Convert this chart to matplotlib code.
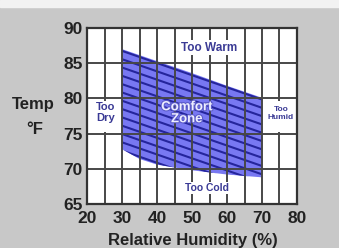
import matplotlib
matplotlib.use("Agg")
import matplotlib.pyplot as plt
import numpy as np
import matplotlib.patheffects as pe
from matplotlib.patches import Polygon, Rectangle

FONT = 'Liberation Sans'

# data
humidity_top = [30, 40, 50, 60, 70]
temp_top = [87.0, 85.3, 83.6, 81.8, 80.1]
humidity_bottom = [30, 35, 40, 50, 60, 70]
temp_bottom = [72.8, 71.4, 70.6, 69.8, 69.2, 68.8]
xticks = [20, 30, 40, 50, 60, 70, 80]
yticks = [65, 70, 75, 80, 85, 90]
zone_labels = ["Too Warm", "Too Cold", "Too\nDry", "Too\nHumid", "Comfort\nZone"]
zone_pos = [(55.0, 87.2), (54.3, 67.3), (25.4, 78.0), (75.4, 77.9), (48.5, 77.9)]

bg = '#c8c8c8'
fig = plt.figure(figsize=(3.39, 2.48), dpi=100, facecolor=bg)
fig.patches.append(Rectangle((0, 0.97), 1, 0.03, transform=fig.transFigure,
                             color='#f2f2f2', zorder=0))
ax = fig.add_axes([0.257, 0.177, 0.619, 0.71])
ax.set_xlim(20, 80)
ax.set_ylim(65, 90)
ax.set_facecolor('white')

# comfort zone polygon
px = list(humidity_top) + list(humidity_bottom[::-1])
py = list(temp_top) + list(temp_bottom[::-1])
poly = Polygon(np.column_stack([px, py]), closed=True, facecolor='#7878f2',
               edgecolor='none', zorder=1)
ax.add_patch(poly)

# hatching lines parallel to top edge, clipped to zone
xs = np.array([28, 72])
slope = (temp_top[-1] - temp_top[0]) / (humidity_top[-1] - humidity_top[0])
for k in range(0, 20):
    ys = temp_top[0] + slope * (xs - humidity_top[0]) - 0.25 - k * 1.18
    ln, = ax.plot(xs, ys, color='#25259c', lw=1.5, zorder=2)
    ln.set_clip_path(poly)

# grid
for x in range(25, 80, 5):
    ax.axvline(x, color='#474747', lw=1.4, zorder=3)
for y in range(70, 90, 5):
    ax.axhline(y, color='#474747', lw=1.4, zorder=3)

for s in ax.spines.values():
    s.set_color('#333333')
    s.set_linewidth(1.6)
    s.set_zorder(5)

ax.set_xticks(xticks)
ax.set_yticks(yticks)
ax.tick_params(axis='x', length=0, pad=5)
ax.tick_params(axis='y', length=0, pad=3)
for lab in ax.get_xticklabels() + ax.get_yticklabels():
    lab.set_family(FONT)
    lab.set_fontweight('bold')
    lab.set_fontsize(12.5)
    lab.set_color('#222222')

# zone labels with white boxes
txtcol = '#3a3a95'
for lab, (x, y) in zip(zone_labels[:2], zone_pos[:2]):
    ax.text(x, y, lab, ha='center', va='center', fontsize=8.5 if lab == 'Too Warm' else 7.5,
            fontweight='bold', color=txtcol, family=FONT, zorder=6,
            bbox=dict(facecolor='white', edgecolor='none', pad=1.0))
ax.add_patch(Rectangle((20.4, 75.3), 9.3, 4.4, facecolor='white', edgecolor='none', zorder=4))
ax.add_patch(Rectangle((70.4, 75.3), 9.3, 4.4, facecolor='white', edgecolor='none', zorder=4))
ax.text(*zone_pos[2], zone_labels[2], ha='center', va='center', fontsize=8,
        fontweight='bold', color=txtcol, family=FONT, zorder=6, linespacing=1.05)
ax.text(*zone_pos[3], zone_labels[3], ha='center', va='center', fontsize=6,
        fontweight='bold', color=txtcol, family=FONT, zorder=6, linespacing=1.15)
ax.text(*zone_pos[4], zone_labels[4], ha='center', va='center', fontsize=9.5,
        fontweight='bold', color='#eeeeff', family=FONT, zorder=6, linespacing=1.0,
        path_effects=[pe.withStroke(linewidth=1.5, foreground='#5a5ac8')])

fig.text(0.098, 0.577, 'Temp', ha='center', va='center', fontsize=12,
         fontweight='bold', family=FONT, color='#222222')
fig.text(0.103, 0.476, '°F', ha='center', va='center', fontsize=12,
         fontweight='bold', family=FONT, color='#222222')
fig.text(0.57, 0.032, 'Relative Humidity (%)', ha='center', va='center', fontsize=12,
         fontweight='bold', family=FONT, color='#222222')

fig.savefig('out.png', dpi=100, facecolor=bg)
